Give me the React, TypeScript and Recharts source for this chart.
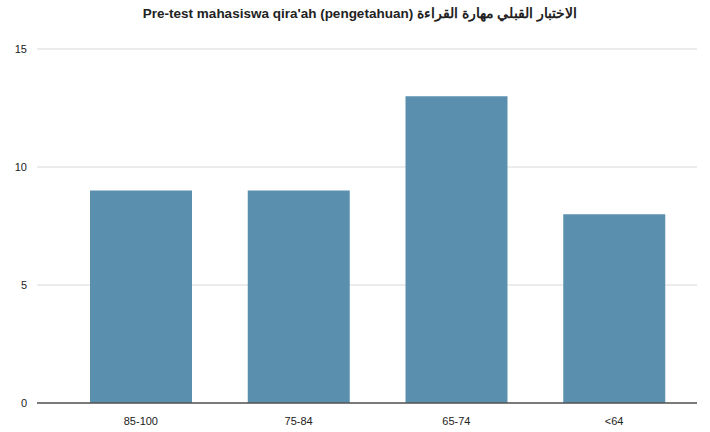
import React from "react";
import { BarChart, Bar, XAxis, YAxis, CartesianGrid } from "recharts";

const categories = ["85-100", "75-84", "65-74", "<64"];
const values = [9, 9, 13, 8];
const yTicks = [0, 5, 10, 15];
const title = "Pre-test mahasiswa qira'ah (pengetahuan) الاختبار القبلي مهارة القراءة";

const data = categories.map((c, i) => ({ name: c, value: values[i] }));

export default function App() {
  return (
    <div style={{ position: "absolute", left: 0, top: 0, width: 710, height: 432, background: "#fff", fontFamily: "Arial, 'Liberation Sans', sans-serif" }}>
      <div style={{ position: "absolute", top: 5, left: 0, width: 720, textAlign: "center", fontSize: 13.5, fontWeight: "bold", color: "#222" }}>
        {title}
      </div>
      <BarChart width={710} height={432} data={data} margin={{ top: 49, right: 13, bottom: 0, left: 0 }}>
        <CartesianGrid vertical={false} stroke="#d9d9d9" />
        <XAxis
          dataKey="name"
          height={29}
          tickLine={false}
          axisLine={{ stroke: "#555", strokeWidth: 1.5 }}
          tick={{ fill: "#222", fontSize: 11 }}
          tickMargin={8}
          padding={{ left: 25, right: 4 }}
        />
        <YAxis
          width={37}
          domain={[0, 15]}
          ticks={yTicks}
          tickLine={false}
          tickSize={0}
          axisLine={false}
          tick={{ fill: "#222", fontSize: 11 }}
          tickMargin={10}
        />
        <Bar dataKey="value" fill="#5a8fae" barSize={102} isAnimationActive={false} />
      </BarChart>
    </div>
  );
}
